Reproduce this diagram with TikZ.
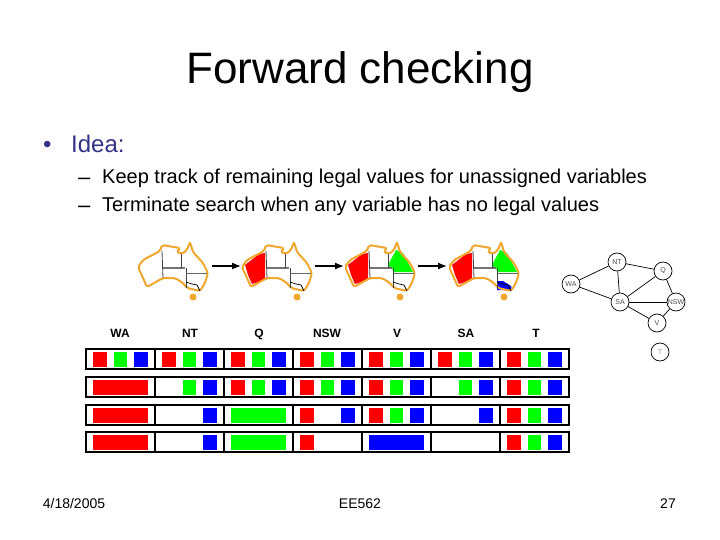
\documentclass[tikz,border=0pt]{standalone}
\usepackage{fontspec}
\usetikzlibrary{arrows.meta}
\setmainfont{Liberation Sans}
\definecolor{ozline}{HTML}{F0A72E}
\definecolor{ideablue}{HTML}{333388}
\newcommand{\sizedfont}[1]{\fontsize{#1}{#1}\selectfont}
% one map: left, wa colour, q colour, v colour
\newcommand{\ozmap}[4]{
    \begin{scope}[xshift=#1pt, yshift=-230pt]
    \fill[#2] (21,35) -- (35,24) -- (41,23) -- (41,50) -- (28,54) -- (24,45) -- cycle;
    \fill[#3] (62,33) -- (69,20) -- (76,23) -- (86,42) -- (66,42) -- (65,37) -- (62,37) -- cycle;
    \fill[#4] (66,51) -- (72,51) -- (80,56) -- (81,60) -- (66,60) -- cycle;
    \draw[ozline, line width=2pt, rounded corners=2pt] (18,37) -- (23,30) -- (40,21) -- (42,15) -- (60,18) -- (57,22)
        -- (62,24) -- (67,20) -- (70,12) -- (73,22) -- (83,33) -- (88,43) -- (85,53) -- (80,61) -- (67,58) -- (63,53)
        -- (55,48) -- (43,48) -- (27,57) -- (23,48) -- cycle;
    \fill[ozline] (73,67) circle (3.5);
    \draw[black!75, line width=0.8pt] (42,21) -- (43,48);
    \draw[black!55, line width=1.3pt] (43,38) -- (65,38);
    \draw[black!75, line width=0.8pt] (61,24) -- (61,38);
    \draw[black!75, line width=0.8pt] (66,38) -- (66,58);
    \draw[black!60, line width=0.5pt] (66,43) -- (87,43);
    \draw[black, line width=0.7pt] (66,52) -- (72,54) -- (77,55) -- (80,61);
    \end{scope}
}
% table helpers: column left, row top
\newcommand{\cellred}[2]{\fill[red] (#1+7,#2+3) rectangle (#1+21,#2+18);}
\newcommand{\cellgreen}[2]{\fill[green] (#1+28,#2+3) rectangle (#1+41,#2+18);}
\newcommand{\cellblue}[2]{\fill[blue] (#1+48,#2+3) rectangle (#1+62,#2+18);}
\newcommand{\cellall}[2]{\cellred{#1}{#2}\cellgreen{#1}{#2}\cellblue{#1}{#2}}
\newcommand{\cellwide}[3]{\fill[#3] (#1+7,#2+3) rectangle (#1+62,#2+18);}
\newcommand{\framerow}[1]{
    \draw[line width=1.5pt] (86,#1) rectangle (569,#1+20);
    \draw[line width=1.2pt] (155,#1) -- (155,#1+20) (224,#1) -- (224,#1+20) (293,#1) -- (293,#1+20)
        (362,#1) -- (362,#1+20) (431,#1) -- (431,#1+20) (500,#1) -- (500,#1+20);
}
\begin{document}
\begin{tikzpicture}[x=1pt, y=-1pt,
    head/.style={anchor=base, font=\bfseries\sizedfont{12}, inner sep=0pt},
    textline/.style={anchor=base west, inner sep=0pt, font=\sizedfont{20}},
    foot/.style={anchor=base, inner sep=0pt, font=\sizedfont{14}},
    state/.style={draw, circle, line width=0.7pt, minimum size=18pt, inner sep=0pt, fill=white, text=black!70, font=\sizedfont{7}},
    link/.style={line width=0.7pt},
    step arrow/.style={-{Latex[length=9pt,width=7pt]}, line width=1.3pt}]
    \useasboundingbox (0,0) rectangle (720,540);
    % slide text
    \node[anchor=base, inner sep=0pt, font=\sizedfont{44}] (title) at (360,84) {Forward checking};
    \node[textline, font=\sizedfont{24}, text=ideablue] (bull) at (43,153) {•};
    \node[textline, font=\sizedfont{24}, text=ideablue] (idea) at (71,153) {Idea:};
    \node[textline, font=\sizedfont{22}] (dash1) at (78,185) {–};
    \node[textline] (line1) at (102,183.5) {Keep track of remaining legal values for unassigned variables};
    \node[textline, font=\sizedfont{22}] (dash2) at (78,213) {–};
    \node[textline] (line2) at (102,211.5) {Terminate search when any variable has no legal values};
    \node[foot] (date) at (74,508) {4/18/2005};
    \node[foot] (course) at (360,508) {EE562};
    \node[foot] (page) at (668,508) {27};
    % maps
    \ozmap{120}{white}{white}{white}
    \ozmap{224}{red}{white}{white}
    \ozmap{327}{red}{green}{white}
    \ozmap{431}{red}{green}{blue}
    \coordinate (m1) at (212,266);
    \coordinate (m2w) at (241,266);
    \coordinate (m2) at (315,266);
    \coordinate (m3w) at (344,266);
    \coordinate (m3) at (418,266);
    \coordinate (m4w) at (447,266);
    \draw[step arrow] (m1) -- (m2w);
    \draw[step arrow] (m2) -- (m3w);
    \draw[step arrow] (m3) -- (m4w);
    % constraint graph
    \node[state] (wa) at (571,284) {WA};
    \node[state] (nt) at (617,262) {NT};
    \node[state] (q) at (663,271) {Q};
    \node[state] (sa) at (620,302) {SA};
    \node[state] (nsw) at (676,302) {NSW};
    \node[state] (v) at (657,323) {V};
    \node[state, text=black!40] (t) at (660,352) {T};
    \draw[link] (wa) -- (nt);
    \draw[link] (wa) -- (sa);
    \draw[link] (nt) -- (q);
    \draw[link] (nt) -- (sa);
    \draw[link] (sa) -- (q);
    \draw[link] (sa) -- (nsw);
    \draw[link] (sa) -- (v);
    \draw[link] (q) -- (nsw);
    \draw[link] (nsw) -- (v);
    % table heads
    \node[head] (hwa) at (120,337) {WA};
    \node[head] (hnt) at (190,337) {NT};
    \node[head] (hq) at (259,337) {Q};
    \node[head] (hnsw) at (327,337) {NSW};
    \node[head] (hv) at (397,337) {V};
    \node[head] (hsa) at (466,337) {SA};
    \node[head] (ht) at (536,337) {T};
    % row 1
    \framerow{349}
    \cellall{86}{349}\cellall{155}{349}\cellall{224}{349}\cellall{293}{349}
    \cellall{362}{349}\cellall{431}{349}\cellall{500}{349}
    % row 2
    \framerow{377}
    \cellwide{86}{377}{red}
    \cellgreen{155}{377}\cellblue{155}{377}
    \cellall{224}{377}\cellall{293}{377}\cellall{362}{377}
    \cellgreen{431}{377}\cellblue{431}{377}
    \cellall{500}{377}
    % row 3
    \framerow{405}
    \cellwide{86}{405}{red}
    \cellblue{155}{405}
    \cellwide{224}{405}{green}
    \cellred{293}{405}\cellblue{293}{405}
    \cellall{362}{405}
    \cellblue{431}{405}
    \cellall{500}{405}
    % row 4
    \framerow{432}
    \cellwide{86}{432}{red}
    \cellblue{155}{432}
    \cellwide{224}{432}{green}
    \cellred{293}{432}
    \cellwide{362}{432}{blue}
    \cellall{500}{432}
\end{tikzpicture}
\end{document}
